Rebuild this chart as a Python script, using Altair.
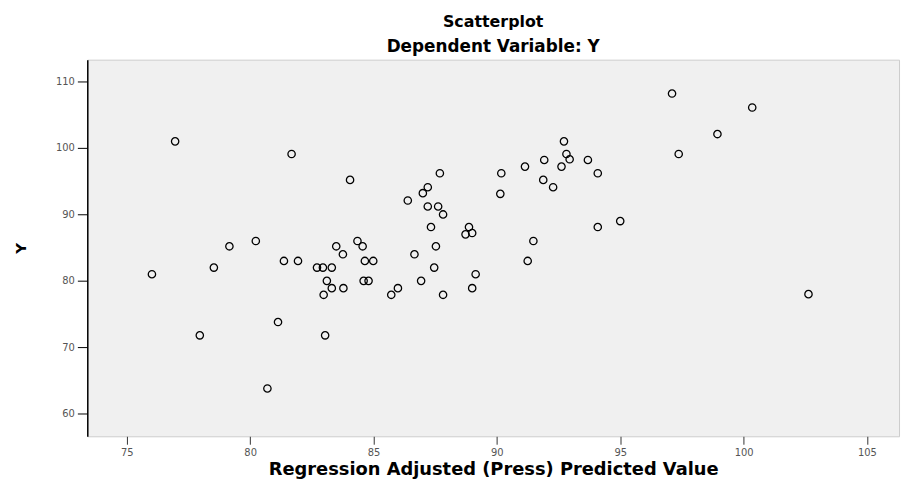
import altair as alt
import pandas as pd

# Regression adjusted (press) predicted values
pred = [76.96, 81.68, 84.05, 87.69, 90.18, 87.20, 87.00, 86.39, 87.20, 87.62,
        87.82, 87.33, 88.87, 88.73, 89.00, 90.14, 80.23, 79.16, 83.49, 84.35,
        84.56, 87.53, 83.76, 86.66, 87.46, 81.37, 81.94, 84.65, 84.99, 78.53,
        82.71, 82.95, 83.31, 76.02, 89.14, 83.11, 84.60, 84.80, 86.93, 83.31,
        83.78, 85.99, 89.00, 82.98, 85.72, 87.82, 81.13, 77.96, 83.04, 80.70,
        97.10, 100.35, 98.94, 92.72, 92.82, 92.95, 91.92, 93.69, 91.14, 92.62,
        94.09, 97.37, 91.88, 92.28, 94.09, 95.00, 91.48, 91.25, 102.63]
# Dependent variable Y
yval = [101.0, 99.1, 95.2, 96.2, 96.2, 94.1, 93.2, 92.1, 91.2, 91.2,
        90.0, 88.1, 88.1, 87.0, 87.2, 93.1, 86.0, 85.2, 85.2, 86.0,
        85.2, 85.2, 84.0, 84.0, 82.0, 83.0, 83.0, 83.0, 83.0, 82.0,
        82.0, 82.0, 82.0, 81.0, 81.0, 80.0, 80.0, 80.0, 80.0, 78.9,
        78.9, 78.9, 78.9, 77.9, 77.9, 77.9, 73.8, 71.8, 71.8, 63.8,
        108.2, 106.1, 102.1, 101.0, 99.1, 98.3, 98.2, 98.2, 97.2, 97.2,
        96.2, 99.1, 95.2, 94.1, 88.1, 89.0, 86.0, 83.0, 78.0]

x_ticks = [75, 80, 85, 90, 95, 100, 105]
y_ticks = [60, 70, 80, 90, 100, 110]

df = pd.DataFrame({"pred": pred, "y": yval})

FONT = "DejaVu Sans"

chart = alt.Chart(df).mark_point(
    shape="circle", filled=False, color="black", size=55, strokeWidth=1.3, opacity=1
).encode(
    x=alt.X("pred:Q",
            title="Regression Adjusted (Press) Predicted Value",
            scale=alt.Scale(domain=[73.4, 106.3], nice=False, zero=False),
            axis=alt.Axis(values=x_ticks, grid=False, domain=False, tickColor="#333333",
                          tickSize=8, labelFontSize=10, labelColor="#555555",
                          labelFont=FONT, labelPadding=3, titleFont=FONT, titleFontSize=18,
                          titleFontWeight="bold", titleColor="black", titlePadding=4)),
    y=alt.Y("y:Q", title="Y",
            scale=alt.Scale(domain=[56.6, 113.3], nice=False, zero=False),
            axis=alt.Axis(values=y_ticks, grid=False, domain=True, domainColor="black",
                          domainWidth=1.5, tickColor="black", tickSize=10, labelFontSize=10,
                          labelColor="#555555", labelFont=FONT, labelPadding=3,
                          titleFont=FONT, titleFontSize=15, titleFontWeight="bold",
                          titleColor="black", titlePadding=27)),
).properties(
    width=819, height=380,
    background="white",
    title=alt.TitleParams("Scatterplot", subtitle="Dependent Variable: Y",
                          font=FONT, fontSize=16, fontWeight="bold",
                          subtitleFont=FONT, subtitleFontSize=17,
                          subtitleFontWeight="bold", subtitleColor="black",
                          subtitlePadding=9, offset=5, anchor="middle"),
    autosize="none",
    padding={"left": 80, "top": 50, "right": 3, "bottom": 45},
).configure_view(
    fill="#f0f0f0", stroke="#cccccc", strokeWidth=1
)

chart.save("out.html", embed_options={"renderer": "svg", "actions": False})
